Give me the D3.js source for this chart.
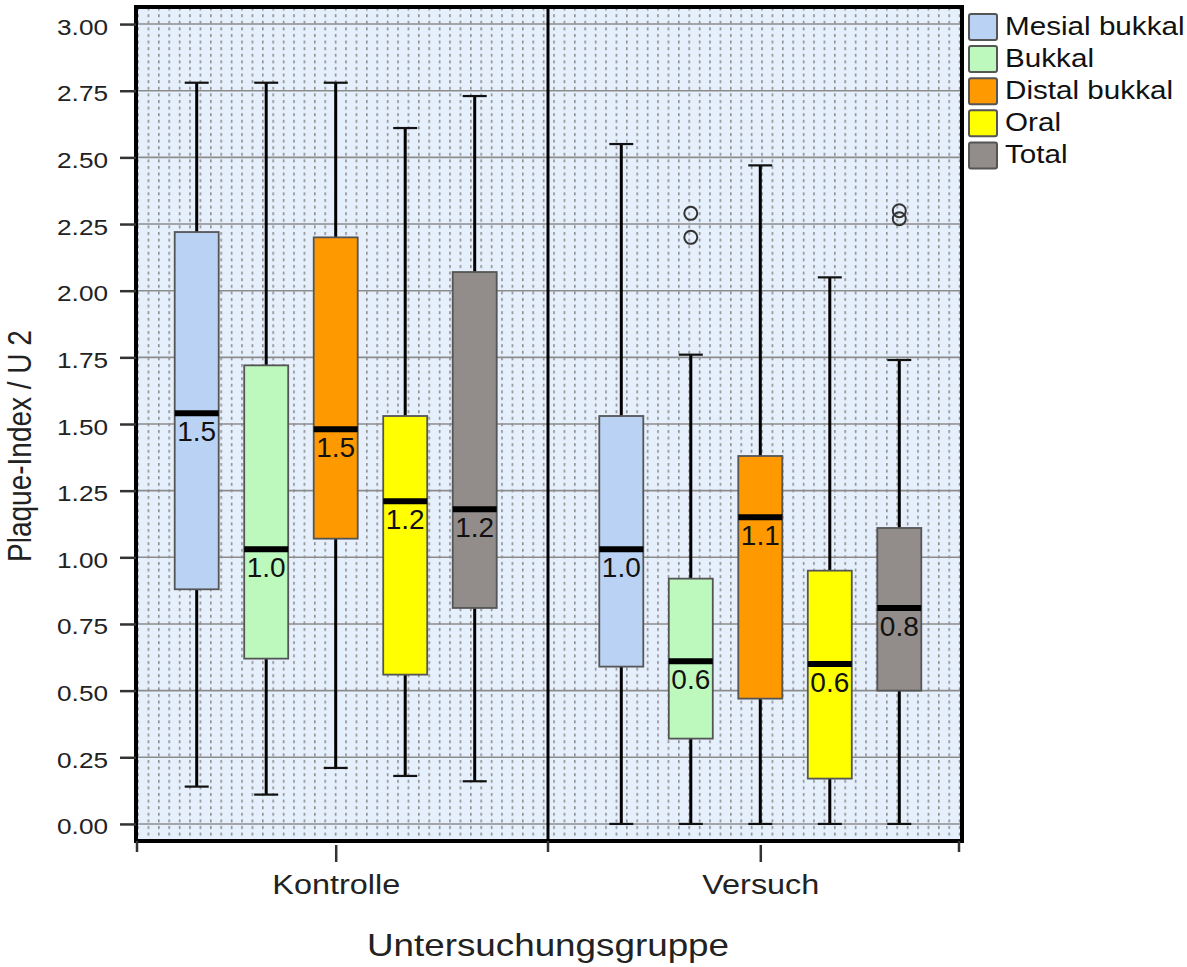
<!DOCTYPE html>
<html>
<head>
<meta charset="utf-8">
<script src="https://cdn.jsdelivr.net/npm/d3@7"></script>
<style>
	html, body { margin: 0; padding: 0; background: #fff; }
	svg { display: block; font-family: 'Liberation Sans', Arial, Helvetica, sans-serif; }
</style>
</head>
<body>
<div id="chart"></div>
<script>
//===== DATA =====//

var groups = ['Kontrolle', 'Versuch'];
var series = ['Mesial bukkal', 'Bukkal', 'Distal bukkal', 'Oral', 'Total'];
var colors = ['#bad3f5', '#bdf8bd', '#ff9900', '#ffff00', '#928c8a'];

// one row per group, one column per series
var whiskerLow  = [[0.14, 0.11, 0.21, 0.18, 0.16], [0.00, 0.00, 0.00, 0.00, 0.00]];
var quartile1   = [[0.88, 0.62, 1.07, 0.56, 0.81], [0.59, 0.32, 0.47, 0.17, 0.50]];
var medians     = [[1.54, 1.03, 1.48, 1.21, 1.18], [1.03, 0.61, 1.15, 0.60, 0.81]];
var quartile3   = [[2.22, 1.72, 2.20, 1.53, 2.07], [1.53, 0.92, 1.38, 0.95, 1.11]];
var whiskerHigh = [[2.78, 2.78, 2.78, 2.61, 2.73], [2.55, 1.76, 2.47, 2.05, 1.74]];
var medianLabels = [['1.5', '1.0', '1.5', '1.2', '1.2'], ['1.0', '0.6', '1.1', '0.6', '0.8']];

var outliers = [
	{group: 'Versuch', series: 'Bukkal', value: 2.29},
	{group: 'Versuch', series: 'Bukkal', value: 2.20},
	{group: 'Versuch', series: 'Total', value: 2.30},
	{group: 'Versuch', series: 'Total', value: 2.27}
];

var yTicks = [0, 0.25, 0.5, 0.75, 1, 1.25, 1.5, 1.75, 2, 2.25, 2.5, 2.75, 3];
var xTitle = 'Untersuchungsgruppe';
var yTitle = 'Plaque-Index / U 2';

//===== SETUP =====//

var width = 1187, height = 967;
var plot = {left: 136, right: 962, top: 7, bottom: 841};

var svg = d3.select('#chart')
	.append('svg')
	.attr('width', width)
	.attr('height', height);

var y = d3.scaleLinear().domain([-0.064, 3.064]).range([plot.bottom, plot.top]);
var xGroup = d3.scalePoint().domain(groups).range([137, 959]).padding(0.468);
var xSeries = d3.scaleBand().domain(series).range([-173.75, 173.75])
	.paddingInner(0.367).paddingOuter(0.1835);
var bw = xSeries.bandwidth();

// the reference is wider than it is tall, so glyphs get stretched sideways
function stretchText(sel, factor) {
	sel.each(function () {
		var len = this.getComputedTextLength();
		d3.select(this)
			.attr('textLength', len * factor)
			.attr('lengthAdjust', 'spacingAndGlyphs');
	});
}

//===== BACKGROUND =====//

var defs = svg.append('defs');
defs.append('pattern')
	.attr('id', 'dots')
	.attr('patternUnits', 'userSpaceOnUse')
	.attr('x', 147.6).attr('y', 0)
	.attr('width', 10.4).attr('height', 6.6)
	.append('rect')
	.attr('x', 0).attr('y', 1)
	.attr('width', 1.6).attr('height', 3)
	.attr('fill', '#8e8e8e');

svg.append('rect')
	.attr('x', plot.left).attr('y', plot.top)
	.attr('width', plot.right - plot.left).attr('height', plot.bottom - plot.top)
	.attr('fill', '#e6f0fc');
svg.append('rect')
	.attr('x', plot.left).attr('y', plot.top)
	.attr('width', plot.right - plot.left).attr('height', plot.bottom - plot.top)
	.attr('fill', 'url(#dots)');

svg.append('g').selectAll('line')
	.data(yTicks)
	.enter().append('line')
	.attr('x1', plot.left).attr('x2', plot.right)
	.attr('y1', function (d) { return y(d); })
	.attr('y2', function (d) { return y(d); })
	.attr('stroke', '#8c8c8c')
	.attr('stroke-width', 1.6);

var separator = (xGroup(groups[0]) + xGroup(groups[1])) / 2;
svg.append('line')
	.attr('x1', separator).attr('x2', separator)
	.attr('y1', plot.top).attr('y2', plot.bottom)
	.attr('stroke', '#000')
	.attr('stroke-width', 3);

//===== BOXES =====//

var boxes = [];
groups.forEach(function (g, gi) {
	series.forEach(function (s, si) {
		boxes.push({
			group: g, series: s, color: colors[si],
			low: whiskerLow[gi][si], q1: quartile1[gi][si], median: medians[gi][si],
			q3: quartile3[gi][si], high: whiskerHigh[gi][si], label: medianLabels[gi][si]
		});
	});
});

function cx(d) { return xGroup(d.group) + xSeries(d.series) + bw / 2; }

var box = svg.append('g').selectAll('g.box')
	.data(boxes)
	.enter().append('g')
	.classed('box', true);

box.append('line')
	.attr('x1', cx).attr('x2', cx)
	.attr('y1', function (d) { return y(d.low); })
	.attr('y2', function (d) { return y(d.high); })
	.attr('stroke', '#000')
	.attr('stroke-width', 3);

box.selectAll('line.cap')
	.data(function (d) { return [{x: cx(d), v: d.low}, {x: cx(d), v: d.high}]; })
	.enter().append('line')
	.classed('cap', true)
	.attr('x1', function (d) { return d.x - 12; })
	.attr('x2', function (d) { return d.x + 12; })
	.attr('y1', function (d) { return y(d.v); })
	.attr('y2', function (d) { return y(d.v); })
	.attr('stroke', '#111')
	.attr('stroke-width', 2.2);

box.append('rect')
	.attr('x', function (d) { return cx(d) - bw / 2; })
	.attr('y', function (d) { return y(d.q3); })
	.attr('width', bw)
	.attr('height', function (d) { return y(d.q1) - y(d.q3); })
	.attr('fill', function (d) { return d.color; })
	.attr('stroke', '#555')
	.attr('stroke-width', 1.8);

box.append('line')
	.attr('x1', function (d) { return cx(d) - bw / 2; })
	.attr('x2', function (d) { return cx(d) + bw / 2; })
	.attr('y1', function (d) { return y(d.median); })
	.attr('y2', function (d) { return y(d.median); })
	.attr('stroke', '#000')
	.attr('stroke-width', 6);

box.append('text')
	.attr('x', cx)
	.attr('y', function (d) { return y(d.median) + 28; })
	.attr('text-anchor', 'middle')
	.attr('font-size', 28)
	.attr('fill', '#111')
	.text(function (d) { return d.label; });

svg.append('g').selectAll('circle')
	.data(outliers)
	.enter().append('circle')
	.attr('cx', function (d) { return xGroup(d.group) + xSeries(d.series) + bw / 2; })
	.attr('cy', function (d) { return y(d.value); })
	.attr('r', 6.5)
	.attr('fill', 'none')
	.attr('stroke', '#333')
	.attr('stroke-width', 2);

//===== FRAME & AXES =====//

svg.append('rect')
	.attr('x', plot.left).attr('y', plot.top)
	.attr('width', plot.right - plot.left).attr('height', plot.bottom - plot.top)
	.attr('fill', 'none')
	.attr('stroke', '#000')
	.attr('stroke-width', 4);

var yAxis = svg.append('g')
	.attr('transform', 'translate(' + plot.left + ',0)')
	.call(d3.axisLeft(y).tickValues(yTicks).tickFormat(d3.format('.2f'))
		.tickSizeInner(16).tickSizeOuter(0).tickPadding(12));
yAxis.select('.domain').remove();
yAxis.selectAll('line').attr('stroke', '#333').attr('stroke-width', 2.5);
yAxis.selectAll('text')
	.attr('font-size', 22)
	.attr('font-family', null)
	.attr('fill', '#222')
	.attr('dy', 10)
	.call(stretchText, 1.19);

var xAxis = svg.append('g')
	.attr('transform', 'translate(0,' + (plot.bottom + 4) + ')')
	.call(d3.axisBottom(xGroup).tickSizeInner(17).tickSizeOuter(0));
xAxis.select('.domain').remove();
xAxis.selectAll('line').attr('stroke', '#333').attr('stroke-width', 2.5);
xAxis.selectAll('text')
	.attr('font-size', 27)
	.attr('font-family', null)
	.attr('fill', '#222')
	.attr('y', 49)
	.attr('dy', 0)
	.call(stretchText, 1.2);

svg.append('g').selectAll('line')
	.data([xGroup.range()[0], separator, xGroup.range()[1]])
	.enter().append('line')
	.attr('x1', function (d) { return d; })
	.attr('x2', function (d) { return d; })
	.attr('y1', plot.bottom)
	.attr('y2', plot.bottom + 11)
	.attr('stroke', '#333')
	.attr('stroke-width', 2.5);

svg.append('text')
	.attr('x', separator)
	.attr('y', 956)
	.attr('text-anchor', 'middle')
	.attr('font-size', 32)
	.attr('fill', '#222')
	.text(xTitle)
	.call(stretchText, 1.15);

svg.append('g')
	.attr('transform', 'translate(31,446) scale(1.2,1) rotate(-90)')
	.append('text')
	.attr('text-anchor', 'middle')
	.attr('font-size', 28)
	.attr('fill', '#222')
	.text(yTitle);

//===== LEGEND =====//

var legend = svg.append('g').selectAll('g.item')
	.data(series)
	.enter().append('g')
	.classed('item', true)
	.attr('transform', function (d, i) { return 'translate(969,' + (35 + i * 32.1) + ')'; });

legend.append('rect')
	.attr('x', 0).attr('y', -21)
	.attr('width', 28).attr('height', 26)
	.attr('rx', 2)
	.attr('fill', function (d, i) { return colors[i]; })
	.attr('stroke', '#555')
	.attr('stroke-width', 2);

legend.append('text')
	.attr('x', 36)
	.attr('font-size', 26)
	.attr('fill', '#111')
	.text(function (d) { return d; })
	.call(stretchText, 1.14);
</script>
</body>
</html>
